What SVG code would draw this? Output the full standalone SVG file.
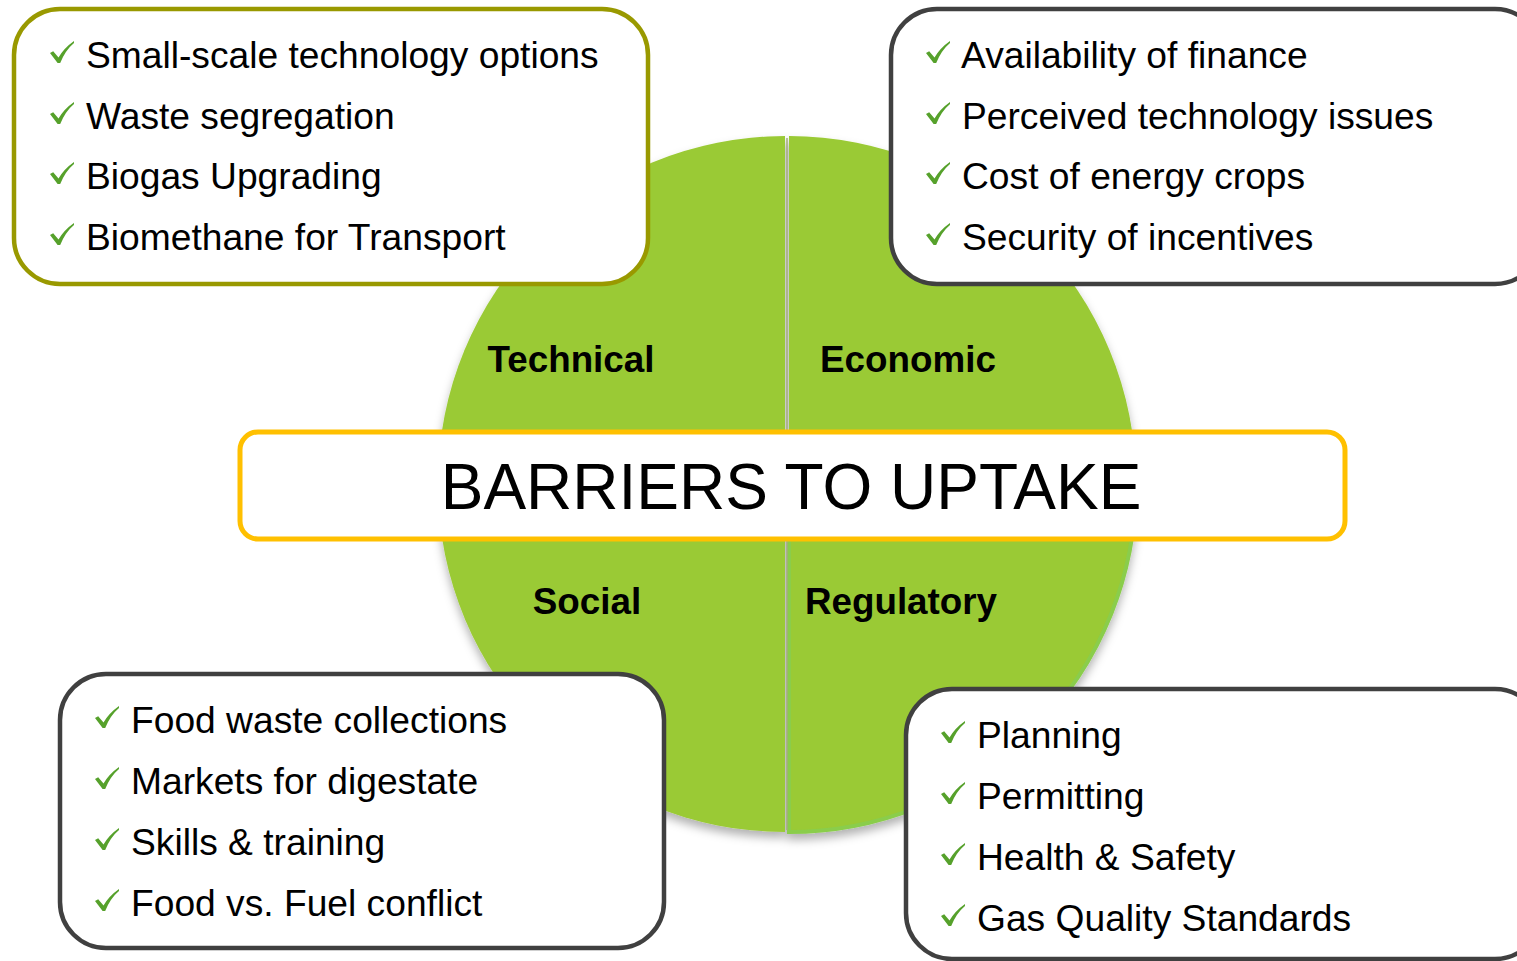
<svg xmlns="http://www.w3.org/2000/svg" xmlns:xlink="http://www.w3.org/1999/xlink" width="1517" height="961" viewBox="0 0 1517 961">
<style>
.q{fill:#9ACA34;}
.box{fill:#fff;stroke-width:4.5;}
.item{font-family:"Liberation Sans",Arial,sans-serif;font-size:37.2px;fill:#000;}
.lbl{font-family:"Liberation Sans",Arial,sans-serif;font-size:36.8px;font-weight:bold;fill:#000;text-anchor:middle;}
.title{font-family:"Liberation Sans",Arial,sans-serif;font-size:64px;fill:#000;text-anchor:middle;}
.chk{fill:#56A12B;}
</style>
<defs>
<path id="chk" d="M0,12 L3.2,10.3 L8.5,16.5 Q14,7 24,0 L24,2 Q15.5,9 10.2,22 L7.6,22 Z"/>
<filter id="sh" x="-10%" y="-10%" width="120%" height="125%">
<feDropShadow dx="0" dy="6" stdDeviation="5" flood-color="#000" flood-opacity="0.3"/>
</filter>
</defs>
<g id="circle" filter="url(#sh)">
<path class="q" d="M785,483 V136 A347,347 0 0 0 438,483 Z"/>
<path class="q" d="M789,483 V136 A347,347 0 0 1 1136,483 Z"/>
<path class="q" d="M785,487 H438 A347,347 0 0 0 785,832 Z"/>
<path class="q" d="M789,487 V832 A347,347 0 0 0 1136,487 Z" stroke="#8ACD4C" stroke-width="4"/>
</g>
<g id="connectors"><line x1="787" y1="138" x2="787" y2="830" stroke="#A3AE7A" stroke-width="1.5"/></g>
<g id="q-labels">
<text class="lbl" x="571" y="372">Technical</text>
<text class="lbl" x="908" y="372">Economic</text>
<text class="lbl" x="587" y="614">Social</text>
<text class="lbl" x="901" y="614">Regulatory</text>
</g>
<g id="banner">
<rect x="240" y="432" width="1105" height="107" rx="18" fill="#fff" stroke="#FFC000" stroke-width="5"/>
<text class="title" x="791" y="509">BARRIERS TO UPTAKE</text>
</g>
<g id="technical-box">
<rect class="box" x="14" y="9" width="634" height="275" rx="46" stroke="#999900"/>
<use href="#chk" class="chk" x="50" y="41"/>
<use href="#chk" class="chk" x="50" y="102"/>
<use href="#chk" class="chk" x="50" y="162"/>
<use href="#chk" class="chk" x="50" y="223"/>
<text class="item" x="86" y="68">Small-scale technology options</text>
<text class="item" x="86" y="129">Waste segregation</text>
<text class="item" x="86" y="189">Biogas Upgrading</text>
<text class="item" x="86" y="250">Biomethane for Transport</text>
</g>
<g id="economic-box">
<rect class="box" x="891" y="9" width="650" height="275" rx="46" stroke="#404040"/>
<use href="#chk" class="chk" x="926" y="41"/>
<use href="#chk" class="chk" x="926" y="102"/>
<use href="#chk" class="chk" x="926" y="162"/>
<use href="#chk" class="chk" x="926" y="223"/>
<text class="item" x="961" y="68">Availability of finance</text>
<text class="item" x="962" y="129">Perceived technology issues</text>
<text class="item" x="962" y="189">Cost of energy crops</text>
<text class="item" x="962" y="250">Security of incentives</text>
</g>
<g id="social-box">
<rect class="box" x="60" y="674" width="604" height="274" rx="46" stroke="#404040"/>
<use href="#chk" class="chk" x="95" y="706"/>
<use href="#chk" class="chk" x="95" y="767"/>
<use href="#chk" class="chk" x="95" y="828"/>
<use href="#chk" class="chk" x="95" y="889"/>
<text class="item" x="131" y="733">Food waste collections</text>
<text class="item" x="131" y="794">Markets for digestate</text>
<text class="item" x="131" y="855">Skills &amp; training</text>
<text class="item" x="131" y="916">Food vs. Fuel conflict</text>
</g>
<g id="regulatory-box">
<rect class="box" x="906" y="689" width="635" height="270" rx="46" stroke="#404040"/>
<use href="#chk" class="chk" x="941" y="721"/>
<use href="#chk" class="chk" x="941" y="782"/>
<use href="#chk" class="chk" x="941" y="843"/>
<use href="#chk" class="chk" x="941" y="904"/>
<text class="item" x="977" y="748">Planning</text>
<text class="item" x="977" y="809">Permitting</text>
<text class="item" x="977" y="870">Health &amp; Safety</text>
<text class="item" x="977" y="931">Gas Quality Standards</text>
</g>
</svg>
